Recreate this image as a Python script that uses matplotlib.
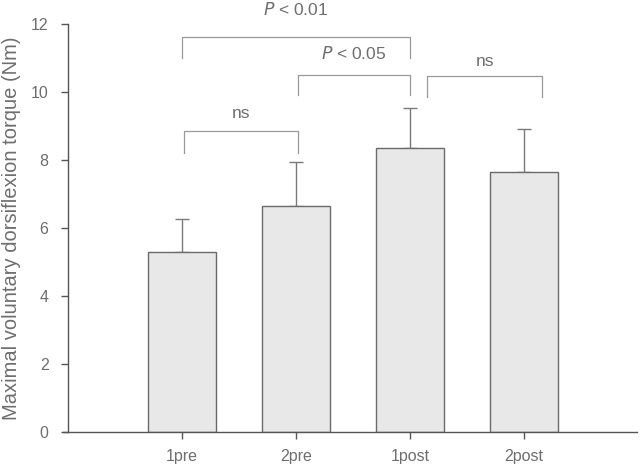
import numpy as np
import matplotlib.pyplot as plt

plt.rcParams['font.family'] = ['Liberation Sans', 'DejaVu Sans']

# data
conditions = ['1pre', '2pre', '1post', '2post']
torque_mean = [5.3, 6.65, 8.35, 7.65]
torque_sd = [0.97, 1.28, 1.17, 1.25]

# significance brackets: (x_left, x_right, y_top, y_foot, label, label_y)
bracket_x0 = [0.02, 1.02, 0.0, 2.15]
bracket_x1 = [1.02, 2.0, 2.0, 3.16]
bracket_top = [8.85, 10.5, 11.62, 10.47]
bracket_foot = [8.2, 9.9, 11.0, 9.85]
bracket_labels = ['ns', '$\\it{P}$ < 0.05', '$\\it{P}$ < 0.01', 'ns']
label_y = [9.38, 11.12, 12.44, 10.9]

grey = '#7a7a7a'
text_grey = '#6e6e6e'

fig = plt.figure(figsize=(6.4, 4.66), dpi=100)
ax = fig.add_axes([63 / 640, 34 / 466, 574 / 640, 408 / 466])

x = np.arange(len(conditions))
ax.bar(x, torque_mean, width=0.6, color='#e8e8e8', edgecolor='#6a6a6a', linewidth=1.0, zorder=2)
ax.errorbar(x, torque_mean, yerr=[np.zeros(len(x)), torque_sd], fmt='none',
            ecolor=grey, elinewidth=1.0, capsize=5, capthick=1.0, zorder=1)

for i in range(len(bracket_labels)):
    ax.plot([bracket_x0[i], bracket_x0[i], bracket_x1[i], bracket_x1[i]],
            [bracket_foot[i], bracket_top[i], bracket_top[i], bracket_foot[i]],
            color='#999999', lw=0.9, clip_on=False)
    ax.text((bracket_x0[i] + bracket_x1[i]) / 2, label_y[i], bracket_labels[i],
            ha='center', va='center', fontsize=12.5, color=text_grey, clip_on=False)

ax.set_xlim(-1.044, 3.991)
ax.set_ylim(0, 12)
ax.set_yticks(np.arange(0, 13, 2))
ax.set_xticks(x)
ax.set_xticklabels(conditions)
ax.set_ylabel('Maximal voluntary dorsiflexion torque (Nm)', fontsize=14.5, color=text_grey, labelpad=7)

for s in ['top', 'right']:
    ax.spines[s].set_visible(False)
ax.spines['left'].set_position(('data', -1.0))
for s in ['left', 'bottom']:
    ax.spines[s].set_color('#555555')
    ax.spines[s].set_linewidth(1.0)
ax.tick_params(axis='both', colors='#555555', labelcolor=text_grey, labelsize=11.5, length=5, width=1.0)
ax.tick_params(axis='y', pad=9)
ax.tick_params(axis='x', pad=7)

fig.savefig('out.png', dpi=100)
